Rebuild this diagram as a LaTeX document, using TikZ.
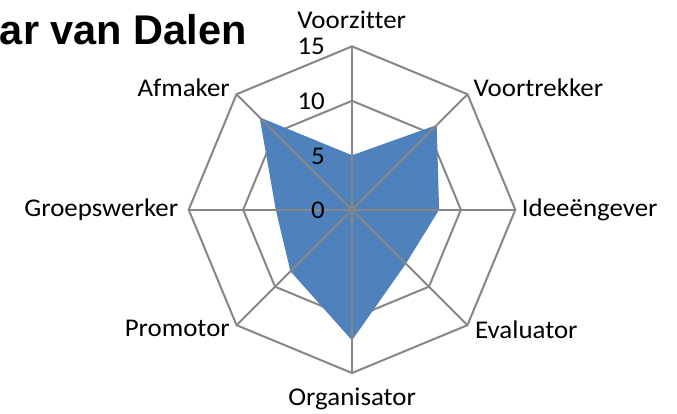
\documentclass[tikz,border=0pt]{standalone}
\usepackage{fontspec}
\setmainfont{Carlito}[FakeStretch=1.055,Ligatures=CommonOff]
\newfontfamily\titlefont{Liberation Sans}
\definecolor{gridgray}{RGB}{134,134,134}
\definecolor{fillblue}{RGB}{79,129,189}
\begin{document}
\begin{tikzpicture}[x=1pt,y=1pt,
  gridline/.style={draw=gridgray,line width=2pt,line join=miter},
  lab/.style={inner sep=0pt,font=\fontsize{25.5}{30}\selectfont},
  titlestyle/.style={inner sep=0pt,anchor=base east,font=\titlefont\bfseries\fontsize{41.5}{48}\selectfont}]
\useasboundingbox (0,-413) rectangle (677,0);
\node[titlestyle] (title) at (247,-44) {ar van Dalen};
\begin{scope}[shift={(352,-209.7)}]
  \def\u{10.887}
  \coordinate (O) at (0,0);
  \foreach \n/\a/\v in {1/90/5,2/45/11,3/0/8,4/-45/7,5/-90/12,6/-135/8,7/180/7,8/135/12}{
    \coordinate (v\n) at (\a:15*\u);
    \coordinate (m\n) at (\a:10*\u);
    \coordinate (s\n) at (\a:5*\u);
    \coordinate (d\n) at (\a:\v*\u);
  }
  \draw[gridline] (s1) -- (s2) -- (s3) -- (s4) -- (s5) -- (s6) -- (s7) -- (s8) -- cycle;
  \draw[gridline] (m1) -- (m2) -- (m3) -- (m4) -- (m5) -- (m6) -- (m7) -- (m8) -- cycle;
  \draw[gridline] (v1) -- (v2) -- (v3) -- (v4) -- (v5) -- (v6) -- (v7) -- (v8) -- cycle;
  \fill[fillblue] (d1) -- (d2) -- (d3) -- (d4) -- (d5) -- (d6) -- (d7) -- (d8) -- cycle;
  \foreach \n in {1,...,8}{\draw[gridline] (O) -- (v\n);}
\end{scope}
\node[lab,anchor=base] (voorzitter) at (351.7,-28.3) {Voorzitter};
\node[lab,anchor=base west] (voortrekker) at (473.3,-96) {Voortrekker};
\node[lab,anchor=base west] (ideeengever) at (521.7,-216.7) {Ideeëngever};
\node[lab,anchor=base west] (evaluator) at (475,-338.3) {Evaluator};
\node[lab,anchor=base] (organisator) at (352.2,-405) {Organisator};
\node[lab,anchor=base east] (promotor) at (230,-336.7) {Promotor};
\node[lab,anchor=base east] (groepswerker) at (178.3,-216) {Groepswerker};
\node[lab,anchor=base east] (afmaker) at (230,-96.7) {Afmaker};
\node[lab,anchor=base east] (t15) at (325,-54) {15};
\node[lab,anchor=base east] (t10) at (325,-109.3) {10};
\node[lab,anchor=base east] (t5) at (325,-164) {5};
\node[lab,anchor=base east] (t0) at (325,-218.3) {0};
\end{tikzpicture}
\end{document}
